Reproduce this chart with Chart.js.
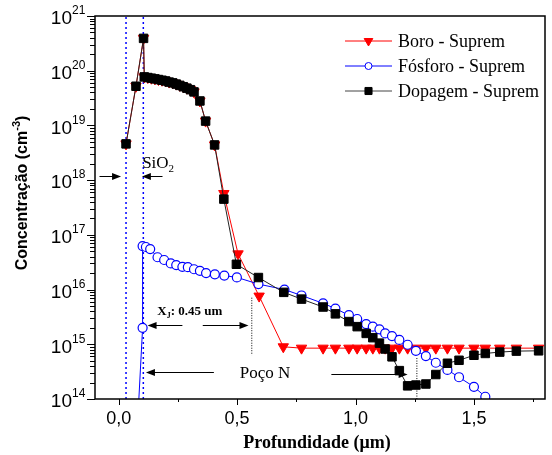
<!DOCTYPE html>
<html>
<head>
<meta charset="utf-8">
<script src="https://cdn.jsdelivr.net/npm/chart.js@4"></script>
<style>
  html, body { margin: 0; padding: 0; background: #fff; }
  canvas { display: block; }
</style>
</head>
<body>
<canvas id="chart" width="552" height="455"></canvas>
<script>
// Depth (um) and concentration (cm^-3)
const dopDepth = [0.031, 0.073, 0.105, 0.108, 0.123, 0.138, 0.153, 0.168, 0.183, 0.198, 0.213, 0.228, 0.243, 0.258, 0.273, 0.288, 0.303, 0.318,
  0.343, 0.367, 0.405, 0.444, 0.497, 0.590, 0.697, 0.772, 0.863, 0.915, 0.972, 1.007, 1.045, 1.073, 1.101, 1.125, 1.154, 1.185,
  1.220, 1.255, 1.297, 1.339, 1.388, 1.437, 1.500, 1.548, 1.609, 1.679, 1.773];
const dopConc = [4.6e18, 5.2e19, 3.9e20, 7.7e19, 7.5e19, 7.3e19, 7.1e19, 6.9e19, 6.7e19, 6.5e19, 6.2e19, 6.0e19, 5.7e19, 5.4e19, 5.1e19, 4.8e19, 4.5e19, 4.1e19,
  2.8e19, 1.2e19, 4.4e18, 4.5e17, 2.9e16, 1.66e16, 8.9e15, 6.7e15, 4.8e15, 3.6e15, 2.6e15, 2.1e15, 1.58e15, 1.32e15, 1.05e15, 8.2e14, 5.9e14, 3.3e14,
  1.74e14, 1.8e14, 1.88e14, 2.8e14, 4.5e14, 5.1e14, 6.3e14, 6.8e14, 7.2e14, 7.5e14, 7.6e14];

const boroDepth = [0.031, 0.073, 0.105, 0.108, 0.123, 0.138, 0.153, 0.168, 0.183, 0.198, 0.213, 0.228, 0.243, 0.258, 0.273, 0.288, 0.303, 0.318,
  0.343, 0.367, 0.405, 0.444, 0.504, 0.593, 0.695, 0.772, 0.863, 0.915, 0.972, 1.007, 1.045, 1.073, 1.101, 1.125, 1.154, 1.185,
  1.220, 1.255, 1.297, 1.339, 1.388, 1.437, 1.500, 1.548, 1.609, 1.679, 1.773];
const boroConc = [4.6e18, 5.2e19, 3.9e20, 7.7e19, 7.5e19, 7.3e19, 7.1e19, 6.9e19, 6.7e19, 6.5e19, 6.2e19, 6.0e19, 5.7e19, 5.4e19, 5.1e19, 4.8e19, 4.5e19, 4.1e19,
  2.8e19, 1.2e19, 4.4e18, 5.7e17, 4.5e16, 7.6e15, 9.0e14, 8.5e14, 8.5e14, 8.5e14, 8.5e14, 8.5e14, 8.5e14, 8.5e14, 8.5e14, 8.5e14, 8.5e14, 8.5e14,
  8.5e14, 8.5e14, 8.5e14, 8.5e14, 8.5e14, 8.5e14, 8.5e14, 8.5e14, 8.5e14, 8.5e14, 8.5e14];

const fosDepth = [0.073, 0.101, 0.101, 0.115, 0.133, 0.164, 0.192, 0.220, 0.243, 0.269, 0.292, 0.318, 0.343, 0.369, 0.406, 0.446, 0.499, 0.590, 0.700,
  0.772, 0.863, 0.915, 0.972, 1.007, 1.045, 1.073, 1.101, 1.125, 1.154, 1.185, 1.220, 1.255, 1.297, 1.339, 1.388, 1.437, 1.500, 1.548];
const fosConc = [1e13, 2.0e15, 6.25e16, 6.0e16, 5.5e16, 3.9e16, 3.47e16, 3.0e16, 2.8e16, 2.6e16, 2.57e16, 2.35e16, 2.2e16, 2.0e16, 1.9e16, 1.8e16, 1.67e16, 1.26e16, 1.0e16,
  7.8e15, 5.6e15, 4.5e15, 3.4e15, 2.9e15, 2.34e15, 2.1e15, 1.88e15, 1.58e15, 1.41e15, 1.2e15, 9.8e14, 7.6e14, 6.1e14, 4.6e14, 3.4e14, 2.5e14, 1.67e14, 1.1e14];

// SiO2 layer limits (blue dotted) and junction markers (black dotted)
const oxideEdges = [0.031, 0.104];
const junctionX = [0.562, 1.259];
const junctionTop = [7.1e15, 5.6e14];
const junctionBottom = [6.3e14, 1.0e14];

// Annotation arrows: [fromX, toX, y]
const arrows = [
  [-0.081, 0.010, 1.2e18],
  [0.185, 0.098, 1.2e18],
  [0.269, 0.122, 2.24e15],
  [0.355, 0.548, 2.24e15],
  [0.402, 0.115, 3.1e14],
  [0.898, 1.220, 2.9e14],
];

const xTicksMajor = [0, 0.5, 1.0, 1.5];
const yDecades = [14, 15, 16, 17, 18, 19, 20, 21];

const RED = '#ff0000';
const BLUE = '#0000ff';
const SERIF = '"Liberation Serif", "Times New Roman", serif';
const SANS = '"Liberation Sans", Arial, sans-serif';

const toPoints = (xs, ys) => xs.map((x, i) => ({ x, y: ys[i] }));

const vLine = (x, y1, y2, color, dash, width) => ({
  data: [{ x, y: y1 }, { x, y: y2 }],
  showLine: true,
  borderColor: color,
  borderWidth: width,
  borderDash: dash,
  pointRadius: 0,
});

const series = [
  {
    label: 'Dopagem - Suprem',
    data: toPoints(dopDepth, dopConc),
    showLine: true,
    borderColor: '#222',
    borderWidth: 1,
    pointStyle: 'rect',
    pointRadius: 6,
    pointBackgroundColor: '#000',
    pointBorderColor: '#000',
    pointBorderWidth: 1,
  },
  {
    label: 'Fósforo - Suprem',
    data: toPoints(fosDepth, fosConc),
    showLine: true,
    borderColor: BLUE,
    borderWidth: 1,
    pointStyle: 'circle',
    pointRadius: 4.5,
    pointBackgroundColor: '#fff',
    pointBorderColor: BLUE,
    pointBorderWidth: 1.2,
  },
  {
    label: 'Boro - Suprem',
    data: toPoints(boroDepth, boroConc),
    showLine: true,
    borderColor: RED,
    borderWidth: 1,
    pointStyle: 'triangle',
    pointRotation: 180,
    pointRadius: 6,
    pointBackgroundColor: RED,
    pointBorderColor: RED,
    pointBorderWidth: 1,
  },
  ...oxideEdges.map(x => vLine(x, 1e14, 1e21, BLUE, [2, 3], 1.5)),
  ...junctionX.map((x, i) => vLine(x, junctionTop[i], junctionBottom[i], '#000', [1, 1.5], 1)),
];

// Legend entries in the original order
const legendItems = [
  { text: 'Boro - Suprem', color: RED, fill: RED, style: 'triangle', rotation: 180, radius: 5 },
  { text: 'Fósforo - Suprem', color: BLUE, fill: '#fff', style: 'circle', rotation: 0, radius: 3.5 },
  { text: 'Dopagem - Suprem', color: '#444', fill: '#000', style: 'rect', rotation: 0, radius: 5 },
];

function drawArrow(ctx, x1, y, x2) {
  const dir = Math.sign(x2 - x1);
  ctx.beginPath();
  ctx.moveTo(x1, y);
  ctx.lineTo(x2 - dir * 6, y);
  ctx.stroke();
  ctx.beginPath();
  ctx.moveTo(x2, y);
  ctx.lineTo(x2 - dir * 9, y - 3.5);
  ctx.lineTo(x2 - dir * 9, y + 3.5);
  ctx.closePath();
  ctx.fill();
}

const decorations = {
  id: 'decorations',
  afterDraw(chart) {
    const { ctx, chartArea: a, scales: { x, y } } = chart;
    ctx.save();
    ctx.strokeStyle = '#000';
    ctx.fillStyle = '#000';

    // frame
    ctx.lineWidth = 1.5;
    ctx.strokeRect(a.left, a.top, a.right - a.left, a.bottom - a.top);

    // y ticks (outward) and labels
    ctx.lineWidth = 1;
    ctx.beginPath();
    yDecades.forEach(n => {
      const py = Math.round(y.getPixelForValue(Math.pow(10, n))) + 0.5;
      ctx.moveTo(a.left - 8, py);
      ctx.lineTo(a.left, py);
      if (n < 21) {
        for (let k = 2; k <= 9; k++) {
          const my = Math.round(y.getPixelForValue(k * Math.pow(10, n))) + 0.5;
          ctx.moveTo(a.left - 5, my);
          ctx.lineTo(a.left, my);
        }
      }
    });
    ctx.stroke();

    yDecades.forEach(n => {
      const py = y.getPixelForValue(Math.pow(10, n));
      ctx.font = '19px ' + SANS;
      ctx.textAlign = 'right';
      ctx.textBaseline = 'middle';
      ctx.fillText('10', 72, py + 3);
      ctx.font = '12px ' + SANS;
      ctx.textAlign = 'left';
      ctx.fillText(String(n), 72, py - 5);
    });

    // x ticks (outward)
    ctx.beginPath();
    for (let v = 0; v <= 1.75 + 1e-9; v += 0.25) {
      const pxv = Math.round(x.getPixelForValue(v)) + 0.5;
      const major = xTicksMajor.some(t => Math.abs(t - v) < 1e-6);
      ctx.moveTo(pxv, a.bottom);
      ctx.lineTo(pxv, a.bottom + (major ? 6 : 3));
    }
    ctx.stroke();

    // axis titles
    ctx.font = 'bold 18px ' + SERIF;
    ctx.textAlign = 'center';
    ctx.textBaseline = 'alphabetic';
    ctx.fillText('Profundidade (\u03bcm)', (a.left + a.right) / 2 - 3, 448);

    ctx.save();
    ctx.translate(23, 193);
    ctx.rotate(-Math.PI / 2);
    ctx.textBaseline = 'middle';
    ctx.textAlign = 'left';
    const main = 'Concentração (cm';
    ctx.font = 'bold 16px ' + SANS;
    const wMain = ctx.measureText(main).width;
    const wClose = ctx.measureText(')').width;
    ctx.font = 'bold 11px ' + SANS;
    const wSup = ctx.measureText('-3').width;
    let cx = -(wMain + wSup + wClose) / 2;
    ctx.font = 'bold 16px ' + SANS;
    ctx.fillText(main, cx, 0);
    cx += wMain;
    ctx.font = 'bold 11px ' + SANS;
    ctx.fillText('-3', cx, -6);
    cx += wSup;
    ctx.font = 'bold 16px ' + SANS;
    ctx.fillText(')', cx, 0);
    ctx.restore();

    // legend
    legendItems.forEach((item, i) => {
      const ly = 41 + i * 25;
      ctx.strokeStyle = item.color;
      ctx.lineWidth = 1;
      ctx.beginPath();
      ctx.moveTo(345, ly);
      ctx.lineTo(392, ly);
      ctx.stroke();
      ctx.fillStyle = item.fill;
      ctx.strokeStyle = item.color === '#444' ? '#000' : item.color;
      Chart.helpers.drawPoint(ctx, {
        pointStyle: item.style, rotation: item.rotation, radius: item.radius, borderWidth: 1.2,
      }, 368.5, ly);
      ctx.fillStyle = '#000';
      ctx.font = '18px ' + SERIF;
      ctx.textAlign = 'left';
      ctx.textBaseline = 'alphabetic';
      ctx.fillText(item.text, 398, ly + 6);
    });

    // annotations
    ctx.strokeStyle = '#000';
    ctx.fillStyle = '#000';
    ctx.lineWidth = 1;
    arrows.forEach(([fx, tx, yy]) => {
      drawArrow(ctx, x.getPixelForValue(fx), Math.round(y.getPixelForValue(yy)) + 0.5, x.getPixelForValue(tx));
    });

    ctx.textAlign = 'left';
    ctx.textBaseline = 'alphabetic';
    // SiO2
    let tx = x.getPixelForValue(0.099);
    let ty = y.getPixelForValue(1.66e18);
    ctx.font = '17px ' + SERIF;
    ctx.fillText('SiO', tx, ty);
    tx += ctx.measureText('SiO').width;
    ctx.font = '11px ' + SERIF;
    ctx.fillText('2', tx, ty + 4);

    // Xj
    tx = x.getPixelForValue(0.163);
    ty = y.getPixelForValue(3.4e15);
    ctx.font = 'bold 13px ' + SERIF;
    ctx.fillText('X', tx, ty);
    tx += ctx.measureText('X').width;
    ctx.font = 'bold 8px ' + SERIF;
    ctx.fillText('J', tx, ty + 3);
    tx += ctx.measureText('J').width;
    ctx.font = 'bold 13px ' + SERIF;
    ctx.fillText(': 0.45 um', tx, ty);

    // Poço N
    ctx.font = '17px ' + SERIF;
    ctx.fillText('Poço N', x.getPixelForValue(0.511), y.getPixelForValue(2.4e14));

    ctx.restore();
  }
};

new Chart(document.getElementById('chart'), {
  type: 'scatter',
  data: { datasets: series },
  options: {
    responsive: false,
    animation: false,
    events: [],
    devicePixelRatio: 1,
    layout: { padding: { top: 16, right: 4, left: 0, bottom: 0 } },
    plugins: {
      legend: { display: false },
      tooltip: { enabled: false },
    },
    scales: {
      x: {
        type: 'linear',
        min: -0.1,
        max: 1.8,
        grid: { display: false, drawTicks: false },
        border: { display: false },
        ticks: {
          stepSize: 0.25,
          includeBounds: false,
          autoSkip: false,
          maxRotation: 0,
          padding: 9,
          color: '#000',
          font: { family: SANS, size: 18 },
          callback: v => xTicksMajor.some(t => Math.abs(t - v) < 1e-6) ? v.toFixed(1).replace('.', ',') : '',
        },
        afterFit: s => { s.height = 56; },
      },
      y: {
        type: 'logarithmic',
        min: 1e14,
        max: 1e21,
        grid: { display: false, drawTicks: false },
        border: { display: false },
        ticks: { display: false },
        afterFit: s => { s.width = 95; },
      },
    },
  },
  plugins: [decorations],
});
</script>
</body>
</html>
